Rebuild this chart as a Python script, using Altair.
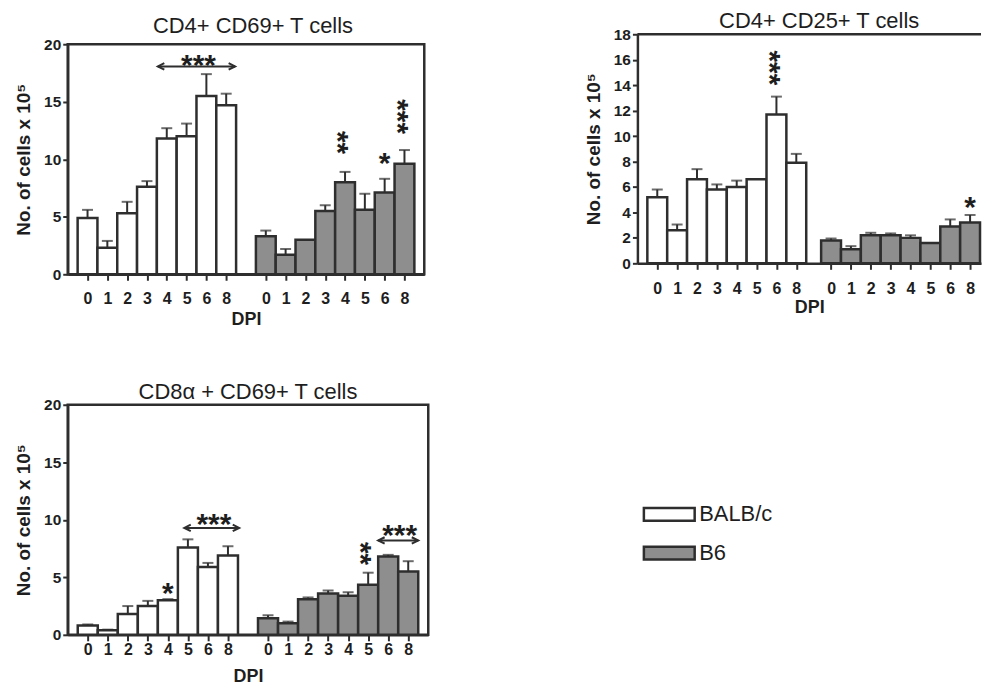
import json
import altair as alt
import pandas as pd

# ---------------- data ----------------
DPI = ["0", "1", "2", "3", "4", "5", "6", "8"]
STRAINS = ["BALB/c", "B6"]
YTITLE = "No. of cells x 10\u2075"

# Panel A: CD4+ CD69+
A_TITLE = "CD4+ CD69+ T cells"
A_BALB = [4.9, 2.3, 5.3, 7.6, 11.8, 12.0, 15.5, 14.7]
A_BALB_SEM = [0.7, 0.6, 1.0, 0.5, 0.9, 1.1, 1.9, 1.0]
A_B6 = [3.3, 1.7, 3.0, 5.5, 8.0, 5.6, 7.1, 9.6]
A_B6_SEM = [0.5, 0.5, 0.0, 0.5, 0.9, 1.4, 1.2, 1.2]
A_YTICKS = [0, 5, 10, 15, 20]
A_STAR_X = [13, 15, 16, 5.6]
A_STAR_Y = [11.45, 10.3, 13.7, 18.8]
A_STAR_TEXT = ["**", "*", "***", "***"]
A_STAR_ANGLE = [90, 0, 90, 0]
A_ARROW_X1 = [3.55]
A_ARROW_X2 = [7.45]
A_ARROW_Y = [18.07]

# Panel B: CD4+ CD25+
B_TITLE = "CD4+ CD25+ T cells"
B_BALB = [5.2, 2.6, 6.6, 5.8, 6.0, 6.6, 11.7, 7.9]
B_BALB_SEM = [0.6, 0.45, 0.8, 0.4, 0.5, 0.0, 1.4, 0.7]
B_B6 = [1.8, 1.1, 2.2, 2.2, 2.0, 1.6, 2.9, 3.2]
B_B6_SEM = [0.15, 0.25, 0.2, 0.15, 0.2, 0.0, 0.55, 0.6]
B_YTICKS = [0, 2, 4, 6, 8, 10, 12, 14, 16, 18]
B_STAR_X = [6, 15.75]
B_STAR_Y = [15.36, 4.93]
B_STAR_TEXT = ["***", "*"]
B_STAR_ANGLE = [90, 0]

# Panel C: CD8a+ CD69+
C_TITLE = "CD8\u03b1 + CD69+ T cells"
C_BALB = [0.8, 0.4, 1.8, 2.5, 3.0, 7.6, 5.9, 6.9]
C_BALB_SEM = [0.1, 0.05, 0.7, 0.45, 0.1, 0.7, 0.35, 0.8]
C_B6 = [1.45, 1.0, 3.1, 3.6, 3.4, 4.35, 6.8, 5.5]
C_B6_SEM = [0.25, 0.15, 0.15, 0.25, 0.3, 1.05, 0.15, 0.9]
C_YTICKS = [0, 5, 10, 15, 20]
C_STAR_X = [4, 14, 6.3, 15.57]
C_STAR_Y = [4.18, 7.06, 10.24, 9.29]
C_STAR_TEXT = ["*", "**", "***", "***"]
C_STAR_ANGLE = [0, 90, 0, 0]
C_ARROW_X1 = [4.82, 14.5]
C_ARROW_X2 = [7.56, 16.5]
C_ARROW_Y = [9.29, 8.2]

# ---------------- style ----------------
FONT = "Liberation Sans"
INK = "#2e2e2e"
TXT = "#1e1e1e"
GRAY = "#8e8e8e"
STAR_FS = 30


def bars_df(balb, balb_sem, b6, b6_sem, off):
    rows = []
    for i, d in enumerate(DPI):
        rows.append(dict(strain="BALB/c", dpi=d, pos=i, lo=i - 0.5, hi=i + 0.5,
                         val=balb[i], top=balb[i] + balb_sem[i], sem=balb_sem[i]))
    for i, d in enumerate(DPI):
        p = i + off
        rows.append(dict(strain="B6", dpi=d, pos=p, lo=p - 0.5, hi=p + 0.5,
                         val=b6[i], top=b6[i] + b6_sem[i], sem=b6_sem[i]))
    return pd.DataFrame(rows)


def panel(title, title_dx, title_base, balb, balb_sem, b6, b6_sem, off,
          yticks, ymax, xmax, W, H, bnd, stars, arrows,
          tick_size, label_pad, xtitle_pad, full_frame, legend=None, ext=0):
    df = bars_df(balb, balb_sem, b6, b6_sem, off)
    xscale = alt.Scale(domain=[-1, xmax], nice=False, zero=False)
    if ext:
        yscale = alt.Scale(domain=[0, ymax], range=[H, -ext], nice=False)
    else:
        yscale = alt.Scale(domain=[0, ymax], nice=False)
    label_expr = (json.dumps(DPI) +
                  "[datum.value < 8 ? round(datum.value) : round(datum.value - %s)]" % off)
    xaxis = alt.Axis(values=list(df["pos"]), labelExpr=label_expr, title="DPI",
                     grid=False, tickSize=tick_size, tickWidth=2, tickColor=INK,
                     domainColor=INK, domainWidth=2.5, labelPadding=label_pad,
                     labelFont=FONT, labelFontSize=16, labelFontWeight="bold",
                     labelColor=TXT, titleFont=FONT, titleFontSize=18,
                     titleFontWeight="bold", titleColor=TXT, titlePadding=xtitle_pad,
                     labelFlush=False, labelOverlap=False)
    yaxis = alt.Axis(values=yticks, title=YTITLE, grid=False, tickSize=5,
                     tickWidth=2, tickColor=INK, domainColor=INK, domainWidth=2.5,
                     labelPadding=2, labelFont=FONT, labelFontSize=15.5,
                     labelFontWeight="bold", labelColor=TXT, titleFont=FONT,
                     titleFontSize=19, titleFontWeight="bold", titleColor=TXT,
                     titlePadding=10, labelFlush=False, labelOverlap=False)

    def X(f):
        return alt.X(f, scale=xscale, axis=xaxis)

    def Y(f):
        return alt.Y(f, scale=yscale, axis=yaxis)

    base = alt.Chart(df)
    fill_kwargs = dict(scale=alt.Scale(domain=STRAINS, range=["#ffffff", GRAY]))
    if legend is None:
        fill = alt.Fill("strain:N", legend=None, **fill_kwargs)
    else:
        fill = alt.Fill("strain:N", legend=legend, title=None, **fill_kwargs)
    bars = base.mark_bar(stroke=INK, strokeWidth=2.5, strokeJoin="miter").encode(
        x=X("lo:Q"), x2="hi:Q", y=Y("val:Q"), y2=alt.datum(0), fill=fill,
    )
    err = base.transform_filter("datum.sem > 0").mark_rule(color=INK, strokeWidth=2).encode(
        x=X("pos:Q"), y=Y("val:Q"), y2="top:Q",
    )
    caps = base.transform_filter("datum.sem > 0").mark_tick(
        color=INK, orient="horizontal", size=11, thickness=2).encode(
        x=X("pos:Q"), y=Y("top:Q"),
    )
    one = alt.Chart(pd.DataFrame({"k": [0]}))
    if full_frame:
        frame = one.mark_rect(fill="#ffffff", fillOpacity=0, stroke=INK, strokeWidth=2.5).encode(
            x=alt.value(0), x2=alt.value(W), y=alt.value(-ext), y2=alt.value(H))
    else:
        frame = one.mark_rule(color=INK, strokeWidth=2.5).encode(
            x=alt.value(0), x2=alt.value(W), y=alt.value(-ext))
    ttl = one.mark_text(font=FONT, fontSize=22, color=TXT, align="center",
                        baseline="alphabetic").encode(
        x=alt.value(W / 2 + title_dx), y=alt.value(-ext - title_base), text=alt.value(title))
    sx, sy, st, sa = stars
    sdf = pd.DataFrame({"x": sx, "y": sy, "t": st, "a": sa})
    star = alt.Chart(sdf).mark_text(font=FONT, fontSize=STAR_FS, fontWeight="bold",
                                    color=TXT, baseline="alphabetic", align="center",
                                    dy=STAR_FS * 0.56).encode(
        x=X("x:Q"), y=Y("y:Q"), text="t:N",
        angle=alt.Angle("a:Q", scale=None),
    )
    layers = [frame, bars, err, caps, star, ttl]
    if arrows is not None:
        ax1, ax2, ay = arrows
        adf = pd.DataFrame({"x1": ax1, "x2": ax2, "y": ay})
        ach = alt.Chart(adf)
        line = ach.mark_rule(color=INK, strokeWidth=2).encode(
            x=X("x1:Q"), x2="x2:Q", y=Y("y:Q"))
        lh = ach.mark_point(shape="M2,-1L0,0L2,1", filled=False, size=42, color=INK,
                            strokeWidth=2, opacity=1).encode(x=X("x1:Q"), y=Y("y:Q"))
        rh = ach.mark_point(shape="M-2,-1L0,0L-2,1", filled=False, size=42, color=INK,
                            strokeWidth=2, opacity=1).encode(x=X("x2:Q"), y=Y("y:Q"))
        layers += [line, lh, rh]
    bl, bt, br, bb = bnd
    bound = one.mark_rule(opacity=0, strokeOpacity=0).encode(
        x=alt.value(-bl), x2=alt.value(W + br), y=alt.value(-bt), y2=alt.value(H + bb))
    layers.append(bound)
    return alt.layer(*layers).properties(width=W, height=H)


p1 = panel(A_TITLE, 7, 11, A_BALB, A_BALB_SEM, A_B6, A_B6_SEM, 9,
           A_YTICKS, 20, 17, 358, 231, (67, 42, 20, 60),
           (A_STAR_X, A_STAR_Y, A_STAR_TEXT, A_STAR_ANGLE),
           (A_ARROW_X1, A_ARROW_X2, A_ARROW_Y),
           6, 10, 4, True)

p2 = panel(B_TITLE, 10, 6.5, B_BALB, B_BALB_SEM, B_B6, B_B6_SEM, 8.75,
           B_YTICKS, 18, 16.3, 345, 220, (192, 33, 0, 10),
           (B_STAR_X, B_STAR_Y, B_STAR_TEXT, B_STAR_ANGLE),
           None,
           6, 11, 2, False, ext=10)

legend = alt.Legend(orient="none", legendX=577, legendY=83, padding=0,
                    symbolType="M-1,-0.25H1V0.25H-1Z", symbolSize=2601,
                    symbolStrokeColor=INK, symbolStrokeWidth=2.5, symbolOpacity=1,
                    labelFont=FONT, labelFontSize=22, labelColor=TXT, labelOffset=3,
                    rowPadding=-9, labelLimit=300)

p3 = panel(C_TITLE, 0, 6, C_BALB, C_BALB_SEM, C_B6, C_B6_SEM, 9,
           C_YTICKS, 20, 17, 362, 231, (65, 69, 0, 0),
           (C_STAR_X, C_STAR_Y, C_STAR_TEXT, C_STAR_ANGLE),
           (C_ARROW_X1, C_ARROW_X2, C_ARROW_Y),
           6, 1, 10, True, legend=legend)

top = alt.hconcat(p1, p2, spacing=0)
chart = alt.vconcat(top, p3, spacing=0).resolve_scale(
    fill="independent").resolve_legend(fill="independent").properties(
    padding=0, background="#ffffff").configure_view(stroke="transparent")

chart.save("out.html", embed_options={"renderer": "svg", "actions": False})
